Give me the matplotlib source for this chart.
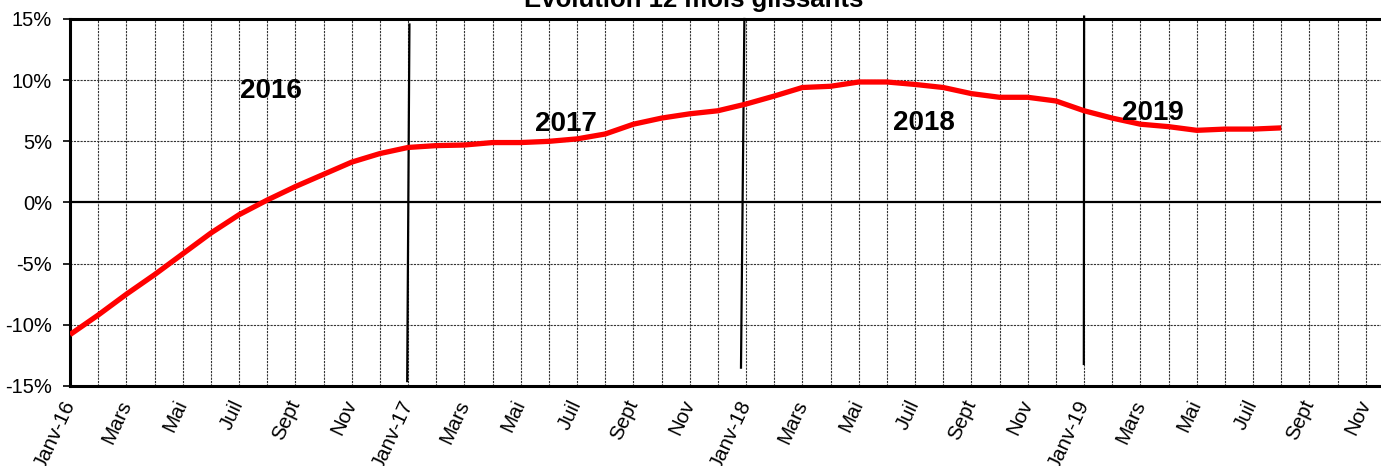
import matplotlib
matplotlib.use("Agg")
import matplotlib.pyplot as plt
from matplotlib.ticker import FixedLocator, FuncFormatter

plt.rcParams['font.family'] = ['Liberation Sans', 'DejaVu Sans']

# ---- data ----
month_index = list(range(44))
values = [-10.8, -9.2, -7.5, -5.9, -4.2, -2.5, -1.0, 0.2, 1.3, 2.3, 3.3, 4.0,
          4.5, 4.65, 4.7, 4.9, 4.9, 5.0, 5.2, 5.6, 6.4, 6.9, 7.25, 7.5,
          8.05, 8.7, 9.4, 9.5, 9.85, 9.85, 9.65, 9.4, 8.9, 8.6, 8.6, 8.3,
          7.5, 6.9, 6.4, 6.2, 5.9, 6.0, 6.0, 6.1]
tick_labels = ['Janv-16', 'Mars', 'Mai', 'Juil', 'Sept', 'Nov',
               'Janv-17', 'Mars', 'Mai', 'Juil', 'Sept', 'Nov',
               'Janv-18', 'Mars', 'Mai', 'Juil', 'Sept', 'Nov',
               'Janv-19', 'Mars', 'Mai', 'Juil', 'Sept', 'Nov']
year_labels = ['2016', '2017', '2018', '2019']
year_label_x = [7.15, 17.6, 30.3, 38.45]
year_label_y = [9.1, 6.4, 6.5, 7.35]
# hand-drawn year separators (x top, x bottom, y top, y bottom)
sep_x_top = [12.05, 23.94, 36.0]
sep_x_bot = [11.97, 23.82, 35.99]
sep_y_top = [14.55, 15.0, 15.2]
sep_y_bot = [-14.6, -13.5, -13.2]
title = 'Evolution 12 mois glissants'

# ---- figure ----
fig = plt.figure(figsize=(13.81, 4.66), dpi=100)
ax = fig.add_axes([70 / 1381, 1 - 386 / 466, 1 - 70 / 1381, (386 - 19) / 466])
ax.set_xlim(0, 46.54)
ax.set_ylim(-15, 15)

# grid
for m in range(1, 47):
    ax.axvline(m, color='#333333', lw=0.8, ls=(0, (2, 1)), zorder=1)
for yv in [-10, -5, 5, 10]:
    ax.axhline(yv, color='#333333', lw=0.8, ls=(0, (2, 1)), zorder=1)
ax.axhline(0, color='black', lw=1.6, zorder=2)

# separators
for xt, xb, yt, yb in zip(sep_x_top, sep_x_bot, sep_y_top, sep_y_bot):
    ax.plot([xt, xb], [yt, yb], color='black', lw=1.6, zorder=3, clip_on=False)

# series
ax.plot(month_index, values, color='#ff0000', lw=3.8, zorder=4,
        solid_capstyle='butt', solid_joinstyle='round')

# year labels
for lab, xv, yv in zip(year_labels, year_label_x, year_label_y):
    ax.text(xv, yv, lab, fontsize=20, fontweight='bold', ha='center', va='center', zorder=5)

# axes styling
for s in ['left', 'top', 'bottom']:
    ax.spines[s].set_linewidth(2.2)
    ax.spines[s].set_color('black')
ax.spines['right'].set_visible(False)

ax.yaxis.set_major_locator(FixedLocator([-15, -10, -5, 0, 5, 10, 15]))
ax.yaxis.set_major_formatter(FuncFormatter(lambda v, p: f'{int(v)}%'))
ax.tick_params(axis='y', labelsize=14.5, length=5, width=1.2, direction='out', pad=8)

ax.set_xticks(list(range(0, 47, 2)))
ax.set_xticklabels(tick_labels, rotation=65, ha='right', va='center',
                   rotation_mode='anchor', fontsize=14.8)
ax.tick_params(axis='x', length=0, pad=11)

fig.text(694 / 1381, 1 - 7 / 466, title, fontsize=18.5, fontweight='bold',
         ha='center', va='baseline')

fig.savefig('out.png', dpi=100)
